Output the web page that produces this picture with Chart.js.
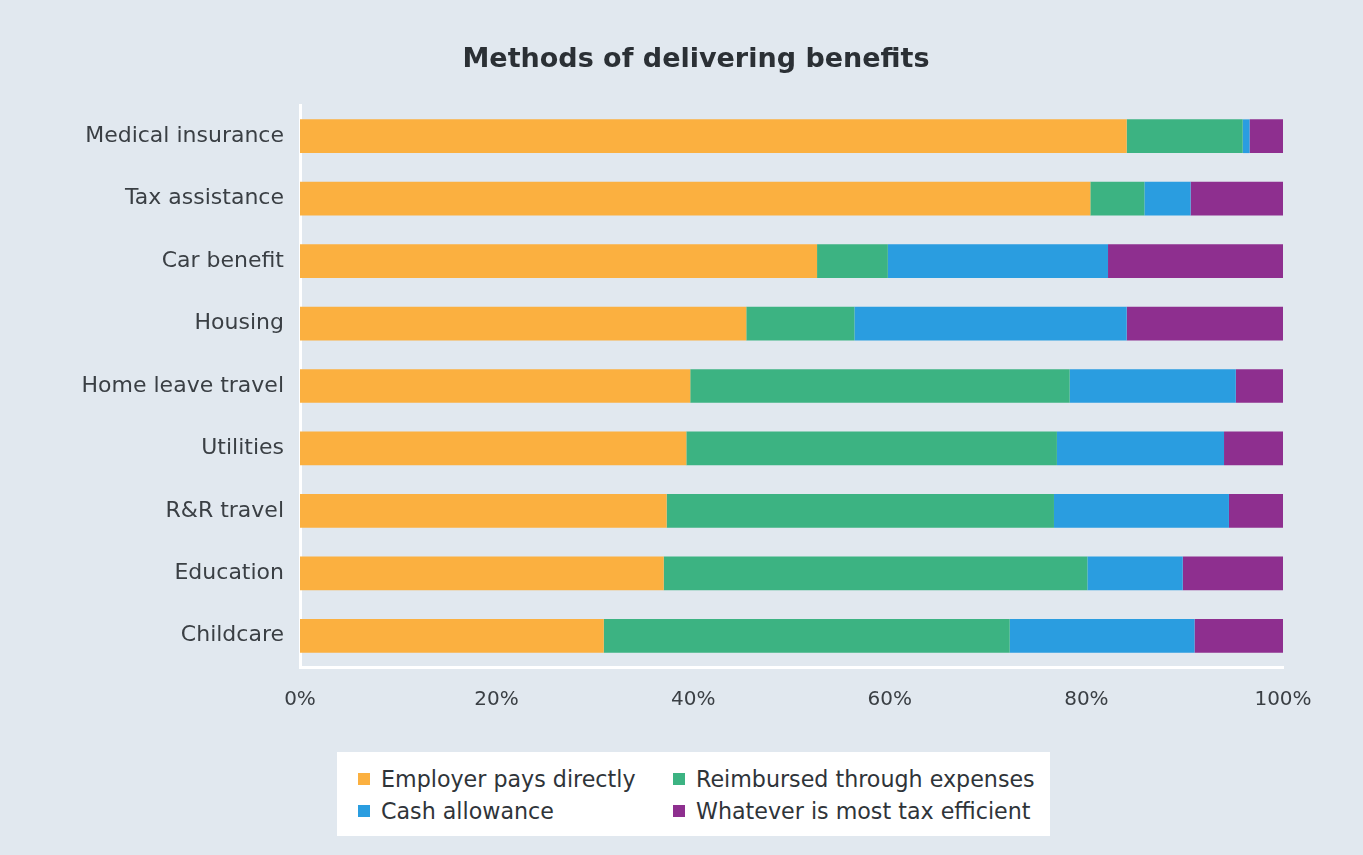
<!DOCTYPE html>
<html>
<head>
<meta charset="utf-8">
<script src="https://cdn.jsdelivr.net/npm/chart.js@4"></script>
<style>
	body { margin: 0; background: #e1e8ef; }
	#wrap { position: relative; width: 1363px; height: 855px; }
	#legend {
		position: absolute; left: 337px; top: 752px; width: 713px; height: 84px;
		background: #fff; font-family: 'DejaVu Sans', sans-serif; font-size: 22.2px; color: #2f3439;
	}
	.item { position: absolute; display: flex; align-items: center; line-height: 26px; white-space: nowrap; }
	.item span.sw { width: 12px; height: 12px; margin-right: 11px; }
</style>
</head>
<body>
<div id="wrap">
	<canvas id="benefitChart" width="1363" height="855"></canvas>
	<div id="legend"></div>
</div>
<script>
// 항목 / 데이터
const categories = ['Medical insurance', 'Tax assistance', 'Car benefit', 'Housing', 'Home leave travel', 'Utilities', 'R&R travel', 'Education', 'Childcare'];
const employerPays = [84.1, 80.4, 52.6, 45.4, 39.7, 39.3, 37.3, 37.0, 30.9];
const reimbursed = [11.8, 5.5, 7.2, 11.0, 38.6, 37.7, 39.4, 43.1, 41.3];
const cashAllowance = [0.7, 4.7, 22.4, 27.7, 16.9, 17.0, 17.8, 9.7, 18.8];
const taxEfficient = [3.4, 9.4, 17.8, 15.9, 4.8, 6.0, 5.5, 10.2, 9.0];
const seriesNames = ['Employer pays directly', 'Reimbursed through expenses', 'Cash allowance', 'Whatever is most tax efficient'];
const seriesColors = ['#fbb040', '#3cb382', '#2a9de0', '#8e2f8f'];
const xTicks = [0, 20, 40, 60, 80, 100];
const chartTitle = 'Methods of delivering benefits';

const seriesData = [employerPays, reimbursed, cashAllowance, taxEfficient];

// 제목은 직접 그림 (가운데 위치 맞추기)
const titlePlugin = {
	id: 'titleText',
	afterDraw: function (c) {
		const g = c.ctx;
		g.save();
		g.font = 'bold 27px "DejaVu Sans"';
		g.fillStyle = '#2b3035';
		g.textAlign = 'center';
		g.textBaseline = 'middle';
		g.fillText(chartTitle, 696, 60);
		g.restore();
	}
};

const ctx = document.getElementById('benefitChart').getContext('2d');
const chart = new Chart(ctx, {
	type: 'bar',
	data: {
		labels: categories,
		datasets: seriesData.map(function (d, i) {
			return {
				label: seriesNames[i],
				data: d,
				backgroundColor: seriesColors[i],
				borderWidth: 0,
				barPercentage: 0.9,
				categoryPercentage: 0.6
			};
		})
	},
	options: {
		responsive: false,
		animation: false,
		indexAxis: 'y',
		layout: { padding: { left: 0, right: 80, top: 105, bottom: 138 } },
		plugins: {
			legend: { display: false },
			tooltip: { enabled: false },
			title: { display: false }
		},
		scales: {
			x: {
				stacked: true,
				min: 0,
				max: 100,
				afterBuildTicks: function (scale) {
					scale.ticks = xTicks.map(function (v) { return { value: v }; });
				},
				afterFit: function (scale) { scale.height = 50; },
				grid: { display: false },
				border: { color: '#ffffff', width: 3 },
				ticks: {
					color: '#3a3f44',
					font: { family: 'DejaVu Sans', size: 20 },
					padding: 13,
					callback: function (v) { return v + '%'; }
				}
			},
			y: {
				stacked: true,
				afterFit: function (scale) { scale.width = 300; },
				grid: { display: false },
				border: { color: '#ffffff', width: 3 },
				ticks: {
					color: '#3a3f44',
					font: { family: 'DejaVu Sans', size: 22 },
					padding: 8
				}
			}
		}
	},
	plugins: [titlePlugin]
});

// 범례 (2열)
const legendEl = document.getElementById('legend');
const legendPos = [[21, 14], [336, 14], [21, 46], [336, 46]];
seriesNames.forEach(function (name, i) {
	const item = document.createElement('div');
	item.className = 'item';
	item.style.left = legendPos[i][0] + 'px';
	item.style.top = legendPos[i][1] + 'px';
	item.innerHTML = '<span class="sw" style="background:' + seriesColors[i] + '"></span>' + name;
	legendEl.appendChild(item);
});
</script>
</body>
</html>
